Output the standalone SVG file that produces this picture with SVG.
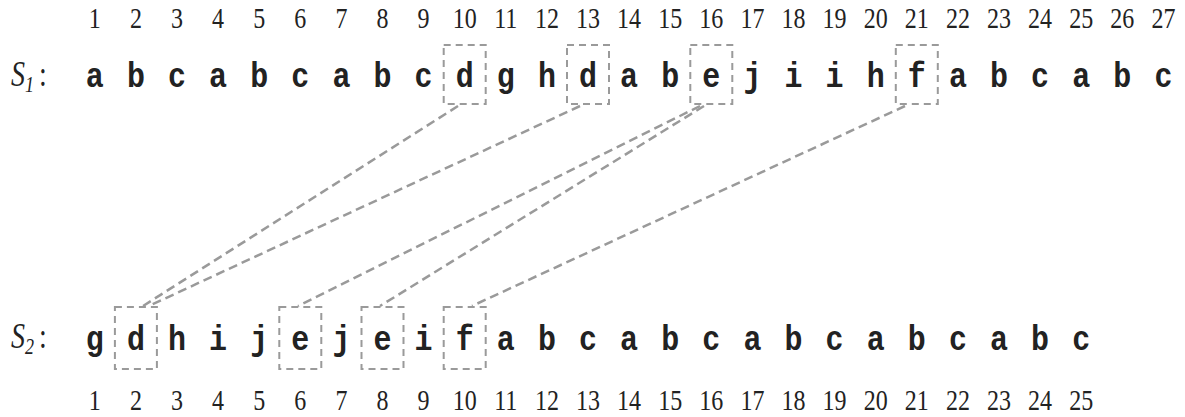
<svg xmlns="http://www.w3.org/2000/svg" width="1185" height="417" viewBox="0 0 1185 417">
<style>
.num{font-family:"Liberation Serif",serif;font-size:24px;fill:#222;text-anchor:middle}
.ch{font-family:"Liberation Mono",monospace;font-weight:bold;font-size:30px;fill:#222;text-anchor:middle}
.lbl{font-family:"Liberation Serif",serif;font-style:italic;font-size:28px;fill:#222}
.box{fill:none;stroke:#9a9a9a;stroke-width:2;stroke-dasharray:7 5}
.conn{fill:none;stroke:#9a9a9a;stroke-width:2.5;stroke-dasharray:9 5}
</style>
<rect width="1185" height="417" fill="#fff"/>
<g id="top-indices" transform="translate(0,28) scale(1,1.25)">
<text class="num" x="94.8" y="0">1</text><text class="num" x="135.9" y="0">2</text><text class="num" x="177" y="0">3</text><text class="num" x="218.1" y="0">4</text><text class="num" x="259.2" y="0">5</text><text class="num" x="300.3" y="0">6</text><text class="num" x="341.4" y="0">7</text><text class="num" x="382.5" y="0">8</text><text class="num" x="423.6" y="0">9</text><text class="num" x="464.7" y="0">10</text><text class="num" x="505.8" y="0">11</text><text class="num" x="546.9" y="0">12</text><text class="num" x="588" y="0">13</text><text class="num" x="629.1" y="0">14</text><text class="num" x="670.2" y="0">15</text><text class="num" x="711.3" y="0">16</text><text class="num" x="752.4" y="0">17</text><text class="num" x="793.5" y="0">18</text><text class="num" x="834.6" y="0">19</text><text class="num" x="875.7" y="0">20</text><text class="num" x="916.8" y="0">21</text><text class="num" x="957.9" y="0">22</text><text class="num" x="999" y="0">23</text><text class="num" x="1040.1" y="0">24</text><text class="num" x="1081.2" y="0">25</text><text class="num" x="1122.3" y="0">26</text><text class="num" x="1163.4" y="0">27</text>
</g>
<g id="S1">
<g transform="translate(0,86) scale(1,1.25)"><text class="lbl" x="11" y="0">S<tspan font-size="18" dy="5">1</tspan><tspan font-style="normal" dy="-5" dx="5">:</tspan></text></g>
<g transform="translate(0,87) scale(1,1.15)"><text class="ch" y="0" x="94.8 135.9 177 218.1 259.2 300.3 341.4 382.5 423.6 464.7 505.8 546.9 588 629.1 670.2 711.3 752.4 793.5 834.6 875.7 916.8 957.9 999 1040.1 1081.2 1122.3 1163.4">abcabcabcdghdabejiihfabcabc</text></g>
</g>
<g id="S1-boxes">
<rect class="box" x="443.7" y="45" width="42" height="59"/>
<rect class="box" x="567" y="45" width="42" height="59"/>
<rect class="box" x="690.3" y="45" width="42" height="59"/>
<rect class="box" x="895.8" y="45" width="42" height="59"/>
</g>
<g id="connectors">
<line class="conn" x1="458" y1="106" x2="143" y2="306"/>
<line class="conn" x1="580" y1="106" x2="151" y2="305"/>
<line class="conn" x1="700" y1="106" x2="298" y2="306"/>
<line class="conn" x1="704" y1="106" x2="380" y2="306"/>
<line class="conn" x1="905" y1="106" x2="472" y2="306"/>
</g>
<g id="S2">
<g transform="translate(0,348) scale(1,1.25)"><text class="lbl" x="11" y="0">S<tspan font-size="18" dy="5">2</tspan><tspan font-style="normal" dy="-5" dx="5">:</tspan></text></g>
<g transform="translate(0,350) scale(1,1.15)"><text class="ch" y="0" x="94.8 135.9 177 218.1 259.2 300.3 341.4 382.5 423.6 464.7 505.8 546.9 588 629.1 670.2 711.3 752.4 793.5 834.6 875.7 916.8 957.9 999 1040.1 1081.2">gdhijejeifabcabcabcabcabc</text></g>
</g>
<g id="S2-boxes">
<rect class="box" x="114.9" y="307" width="42" height="62"/>
<rect class="box" x="279.3" y="307" width="42" height="62"/>
<rect class="box" x="361.5" y="307" width="42" height="62"/>
<rect class="box" x="443.7" y="307" width="42" height="62"/>
</g>
<g id="bottom-indices" transform="translate(0,410) scale(1,1.25)">
<text class="num" x="94.8" y="0">1</text><text class="num" x="135.9" y="0">2</text><text class="num" x="177" y="0">3</text><text class="num" x="218.1" y="0">4</text><text class="num" x="259.2" y="0">5</text><text class="num" x="300.3" y="0">6</text><text class="num" x="341.4" y="0">7</text><text class="num" x="382.5" y="0">8</text><text class="num" x="423.6" y="0">9</text><text class="num" x="464.7" y="0">10</text><text class="num" x="505.8" y="0">11</text><text class="num" x="546.9" y="0">12</text><text class="num" x="588" y="0">13</text><text class="num" x="629.1" y="0">14</text><text class="num" x="670.2" y="0">15</text><text class="num" x="711.3" y="0">16</text><text class="num" x="752.4" y="0">17</text><text class="num" x="793.5" y="0">18</text><text class="num" x="834.6" y="0">19</text><text class="num" x="875.7" y="0">20</text><text class="num" x="916.8" y="0">21</text><text class="num" x="957.9" y="0">22</text><text class="num" x="999" y="0">23</text><text class="num" x="1040.1" y="0">24</text><text class="num" x="1081.2" y="0">25</text>
</g>
</svg>
